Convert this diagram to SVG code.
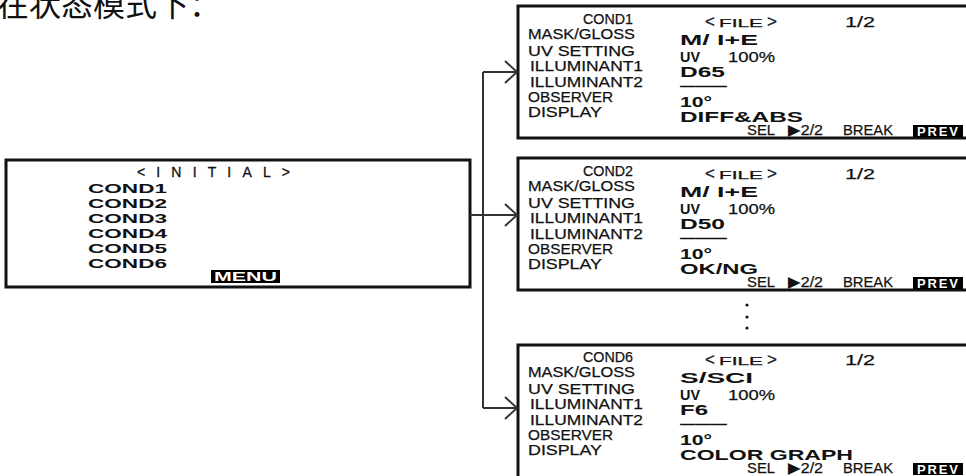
<svg xmlns="http://www.w3.org/2000/svg" xmlns:xlink="http://www.w3.org/1999/xlink" width="966" height="476" viewBox="0 0 966 476">
<style>
.box{fill:#fff;stroke:#111;stroke-width:3}
.lbl{font-family:"Liberation Sans",Arial,sans-serif;font-size:15px;fill:#111;stroke:#111;stroke-width:0.25}
.val{font-family:"Liberation Sans",Arial,sans-serif;font-size:14px;font-weight:bold;fill:#111}
.init{font-family:"Liberation Sans",Arial,sans-serif;font-size:12px;font-weight:bold;fill:#111}
.initt{font-family:"Liberation Sans",Arial,sans-serif;font-size:14px;fill:#111;stroke:#111;stroke-width:0.3}
.inv{fill:#000}
.invt{font-family:"Liberation Sans",Arial,sans-serif;font-size:13px;font-weight:bold;fill:#fff}
.conn{fill:none;stroke:#333;stroke-width:2}
.title{font-family:"Noto Sans CJK SC",sans-serif;font-size:32px;fill:#111}
</style>
<defs>
<g id="labels">
<text class="lbl" x="528" y="39" textLength="107" lengthAdjust="spacingAndGlyphs">MASK/GLOSS</text>
<text class="lbl" x="528" y="56" textLength="107" lengthAdjust="spacingAndGlyphs">UV SETTING</text>
<text class="lbl" x="530" y="71" textLength="113" lengthAdjust="spacingAndGlyphs">ILLUMINANT1</text>
<text class="lbl" x="530" y="87" textLength="113" lengthAdjust="spacingAndGlyphs">ILLUMINANT2</text>
<text class="lbl" x="528" y="102" textLength="85" lengthAdjust="spacingAndGlyphs">OBSERVER</text>
<text class="lbl" x="528" y="117" textLength="74" lengthAdjust="spacingAndGlyphs">DISPLAY</text>
</g>
<g id="common">
<text class="lbl" x="705" y="27"><tspan font-size="17">&lt;</tspan><tspan font-size="10" dx="4" textLength="44" lengthAdjust="spacingAndGlyphs">FILE</tspan><tspan font-size="17" dx="4">&gt;</tspan></text>
<text class="lbl" x="845" y="27" textLength="30" lengthAdjust="spacingAndGlyphs">1/2</text>
<text class="val" x="680" y="62" textLength="20" lengthAdjust="spacingAndGlyphs">UV</text>
<text class="lbl" x="728" y="62" textLength="47" lengthAdjust="spacingAndGlyphs">100%</text>
<text class="val" x="680" y="91" textLength="47" lengthAdjust="spacingAndGlyphs">———</text>
<text class="val" x="680" y="107" textLength="32" lengthAdjust="spacingAndGlyphs">10°</text>
<text class="lbl" x="747" y="135" textLength="28" lengthAdjust="spacingAndGlyphs">SEL</text>
<text class="lbl" x="788" y="135" textLength="35" lengthAdjust="spacingAndGlyphs">▶2/2</text>
<text class="lbl" x="843" y="135" textLength="50" lengthAdjust="spacingAndGlyphs">BREAK</text>
<rect class="inv" x="913" y="125" width="50" height="12"/>
<text class="invt" x="917" y="136" textLength="41">PREV</text>
</g>
</defs>

<g id="title">
<text class="title" x="-3" y="16">在状态模式下：</text>
</g>

<g id="node-initial">
<rect class="box" x="6" y="160" width="464" height="127"/>
<text class="initt" x="137" y="177" textLength="153">&lt;INITIAL&gt;</text>
<text class="init" x="88" y="193" textLength="79" lengthAdjust="spacingAndGlyphs">COND1</text>
<text class="init" x="88" y="208" textLength="79" lengthAdjust="spacingAndGlyphs">COND2</text>
<text class="init" x="88" y="223" textLength="79" lengthAdjust="spacingAndGlyphs">COND3</text>
<text class="init" x="88" y="238" textLength="79" lengthAdjust="spacingAndGlyphs">COND4</text>
<text class="init" x="88" y="253" textLength="79" lengthAdjust="spacingAndGlyphs">COND5</text>
<text class="init" x="88" y="268" textLength="79" lengthAdjust="spacingAndGlyphs">COND6</text>
<rect class="inv" x="211" y="270" width="69" height="13"/>
<text class="invt" x="214" y="281" font-size="12" textLength="63" lengthAdjust="spacingAndGlyphs">MENU</text>
</g>

<g id="node-cond1">
<rect class="box" x="518" y="6" width="460" height="132"/>
<text class="lbl" x="583" y="24" textLength="50" lengthAdjust="spacingAndGlyphs">COND1</text>
<use xlink:href="#labels"/>
<use xlink:href="#common"/>
<text class="val" x="680" y="45" textLength="78" lengthAdjust="spacingAndGlyphs">M/ I+E</text>
<text class="val" x="680" y="77" textLength="45" lengthAdjust="spacingAndGlyphs">D65</text>
<text class="val" x="680" y="122" textLength="123" lengthAdjust="spacingAndGlyphs">DIFF&amp;ABS</text>
</g>

<g id="node-cond2" transform="translate(0,152)">
<rect class="box" x="518" y="6" width="460" height="132"/>
<text class="lbl" x="583" y="24" textLength="50" lengthAdjust="spacingAndGlyphs">COND2</text>
<use xlink:href="#labels"/>
<use xlink:href="#common"/>
<text class="val" x="680" y="45" textLength="78" lengthAdjust="spacingAndGlyphs">M/ I+E</text>
<text class="val" x="680" y="77" textLength="45" lengthAdjust="spacingAndGlyphs">D50</text>
<text class="val" x="680" y="122" textLength="78" lengthAdjust="spacingAndGlyphs">OK/NG</text>
</g>

<g id="ellipsis" fill="#111">
<circle cx="747" cy="305" r="1.6"/>
<circle cx="747" cy="317" r="1.6"/>
<circle cx="747" cy="328" r="1.6"/>
</g>

<g id="node-cond6" transform="translate(0,338)">
<rect class="box" x="518" y="7" width="460" height="140"/>
<text class="lbl" x="583" y="24" textLength="50" lengthAdjust="spacingAndGlyphs">COND6</text>
<use xlink:href="#labels"/>
<use xlink:href="#common"/>
<text class="val" x="680" y="45" textLength="73" lengthAdjust="spacingAndGlyphs">S/SCI</text>
<text class="val" x="680" y="77" textLength="28" lengthAdjust="spacingAndGlyphs">F6</text>
<text class="val" x="680" y="122" textLength="173" lengthAdjust="spacingAndGlyphs">COLOR GRAPH</text>
</g>

<g id="connectors" class="conn">
<path d="M470 215 H483"/>
<path d="M483 72 V408"/>
<path d="M483 72 H517 M505 61 L517 72 L505 83"/>
<path d="M483 215 H517 M505 204 L517 215 L505 226"/>
<path d="M483 408 H517 M505 397 L517 408 L505 419"/>
</g>
</svg>
